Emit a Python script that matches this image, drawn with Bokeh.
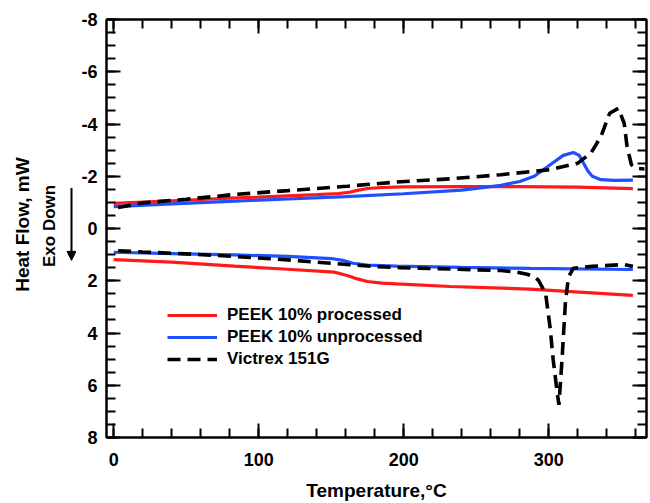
import math
from bokeh.plotting import figure
from bokeh.layouts import row
from bokeh.models import (Range1d, LinearAxis, FixedTicker, Legend, LegendItem,
                          Arrow, NormalHead)
from bokeh.core.properties import value
from bokeh.embed import file_html
from bokeh.resources import INLINE

# ---- data ----
# PEEK 10% processed (red)
red_heat_x = [0, 20, 40, 60, 80, 100, 120, 140, 155, 162, 168, 175, 185, 200, 240, 280, 320, 358]
red_heat_y = [-0.96, -1.01, -1.06, -1.11, -1.16, -1.20, -1.25, -1.30, -1.34, -1.38, -1.46, -1.53,
              -1.57, -1.59, -1.60, -1.60, -1.58, -1.53]
red_cool_x = [0, 40, 83, 120, 152, 161, 168, 175, 185, 195, 232, 287, 358]
red_cool_y = [1.19, 1.29, 1.44, 1.56, 1.67, 1.80, 1.93, 2.03, 2.09, 2.12, 2.22, 2.32, 2.56]

# PEEK 10% unprocessed (blue)
blue_heat_x = [0, 40, 80, 120, 160, 200, 240, 267, 280, 290, 301, 310, 317, 321, 324, 327, 330,
               336, 345, 358]
blue_heat_y = [-0.84, -0.94, -1.04, -1.13, -1.22, -1.33, -1.47, -1.65, -1.80, -2.00, -2.44, -2.80,
               -2.91, -2.80, -2.50, -2.20, -2.00, -1.87, -1.84, -1.85]
blue_cool_x = [0, 40, 83, 120, 150, 158, 165, 175, 195, 240, 287, 358]
blue_cool_y = [0.91, 0.96, 1.01, 1.07, 1.15, 1.22, 1.33, 1.40, 1.44, 1.49, 1.53, 1.57]

# Victrex 151G (black dashed)
blk_heat_x = [3, 20, 50, 83, 120, 161, 198, 232, 267, 301, 320, 329, 336, 342, 348, 352, 354,
              357, 361, 366]
blk_heat_y = [-0.80, -0.98, -1.12, -1.30, -1.45, -1.62, -1.79, -1.90, -2.06, -2.25, -2.50, -2.88,
              -3.52, -4.41, -4.60, -4.03, -3.14, -2.44, -2.30, -2.28]
blk_cool_x = [3, 20, 50, 83, 120, 161, 178, 198, 232, 267, 278, 285, 290, 293, 296, 298, 301,
              303, 305.7, 307, 309.2, 311.5, 313.6, 317, 330, 351.5, 358]
blk_cool_y = [0.85, 0.90, 0.97, 1.07, 1.20, 1.38, 1.45, 1.50, 1.55, 1.61, 1.67, 1.75, 1.85, 1.99,
              2.30, 2.56, 3.83, 5.00, 6.23, 6.75, 4.97, 2.80, 1.86, 1.52, 1.45, 1.38, 1.45]

series_names = ["PEEK 10% processed", "PEEK 10% unprocessed", "Victrex 151G"]
x_title = "Temperature,°C"
y_title = "Heat Flow, mW"
y_note = "Exo Down"
x_major = [0, 100, 200, 300]
x_minor = list(range(0, 361, 20))
y_major = [-8, -6, -4, -2, 0, 2, 4, 6, 8]
y_minor = [v / 2 for v in range(-16, 17)]

RED = "#ff1a1a"
BLUE = "#1f4fff"
BLACK = "#000000"
FONT = "Liberation Sans"

SIDE_W = 76
TOP, BOTTOM = 19, 65
yr = Range1d(8, -8)

p = figure(width=650 - SIDE_W, height=503, output_backend="svg", toolbar_location=None,
           x_range=Range1d(-5, 367.4), y_range=yr,
           min_border_left=106 - SIDE_W, min_border_right=4,
           min_border_top=TOP, min_border_bottom=BOTTOM)
p.xgrid.visible = False
p.ygrid.visible = False
p.outline_line_color = BLACK
p.outline_line_width = 2

def style_axis(ax, ticks, minor, show_labels):
    ax.ticker = FixedTicker(ticks=ticks, minor_ticks=minor)
    ax.axis_line_width = 2
    ax.axis_line_color = BLACK
    ax.major_tick_line_width = 2
    ax.minor_tick_line_width = 2
    ax.major_tick_line_color = BLACK
    ax.minor_tick_line_color = BLACK
    ax.major_tick_in = 14
    ax.major_tick_out = 0
    ax.minor_tick_in = 9
    ax.minor_tick_out = 0
    if show_labels:
        ax.major_label_overrides = {t: str(t) for t in ticks}
        ax.major_label_text_font = FONT
        ax.major_label_text_font_style = "bold"
        ax.major_label_text_font_size = "18px"
        ax.major_label_text_color = BLACK
        ax.axis_label_text_font = FONT
        ax.axis_label_text_font_style = "bold"
        ax.axis_label_text_font_size = "19px"
        ax.axis_label_text_color = BLACK
    else:
        ax.major_label_text_font_size = "0px"
        ax.major_label_text_color = None
        ax.major_label_standoff = 0

style_axis(p.xaxis[0], x_major, x_minor, True)
style_axis(p.yaxis[0], y_major, y_minor, True)
p.xaxis[0].axis_label = x_title
p.xaxis[0].major_label_standoff = 15
p.xaxis[0].axis_label_standoff = 11
p.yaxis[0].major_label_standoff = 9

top_ax = LinearAxis()
style_axis(top_ax, x_major, x_minor, False)
p.add_layout(top_ax, "above")
right_ax = LinearAxis()
style_axis(right_ax, y_major, y_minor, False)
p.add_layout(right_ax, "right")

LW = 3.2
r1 = p.line(red_heat_x, red_heat_y, line_color=RED, line_width=LW)
p.line(red_cool_x, red_cool_y, line_color=RED, line_width=LW)
r2 = p.line(blue_heat_x, blue_heat_y, line_color=BLUE, line_width=LW)
p.line(blue_cool_x, blue_cool_y, line_color=BLUE, line_width=LW)
r3 = p.line(blk_heat_x, blk_heat_y, line_color=BLACK, line_width=3.6, line_dash="13 7")
p.line(blk_cool_x, blk_cool_y, line_color=BLACK, line_width=3.6, line_dash="13 7")

legend = Legend(items=[LegendItem(label=series_names[0], renderers=[r1]),
                       LegendItem(label=series_names[1], renderers=[r2]),
                       LegendItem(label=series_names[2], renderers=[r3])],
                location=(61, 68), padding=0, margin=0, spacing=2,
                label_height=20, glyph_height=20, glyph_width=50, label_standoff=10,
                border_line_alpha=0, background_fill_alpha=0,
                label_text_font=FONT, label_text_font_style="bold",
                label_text_font_size="17px", label_text_color=BLACK)
p.add_layout(legend, "center")

# side panel holding the y-axis title, the "Exo Down" note and its arrow
side = figure(width=SIDE_W, height=503, output_backend="svg", toolbar_location=None,
              x_range=Range1d(0, SIDE_W), y_range=yr, x_axis_type=None, y_axis_type=None,
              min_border_left=0, min_border_right=0,
              min_border_top=TOP, min_border_bottom=BOTTOM)
side.xgrid.visible = False
side.ygrid.visible = False
side.outline_line_color = None
side.text(x=[22], y=[-0.15], text=[y_title], angle=math.pi / 2,
          text_align="center", text_baseline="middle",
          text_font=value(FONT), text_font_style="bold", text_font_size="19px",
          text_color=BLACK)
side.text(x=[49], y=[-0.1], text=[y_note], angle=math.pi / 2,
          text_align="center", text_baseline="middle",
          text_font=value(FONT), text_font_style="bold", text_font_size="17px",
          text_color=BLACK)
side.add_layout(Arrow(x_start=71, y_start=-1.55, x_end=71, y_end=1.22,
                      line_color=BLACK, line_width=2,
                      end=NormalHead(size=9, fill_color=BLACK, line_color=BLACK)))

layout = row(side, p, spacing=0)
open("out.html", "w").write(file_html(layout, INLINE))
